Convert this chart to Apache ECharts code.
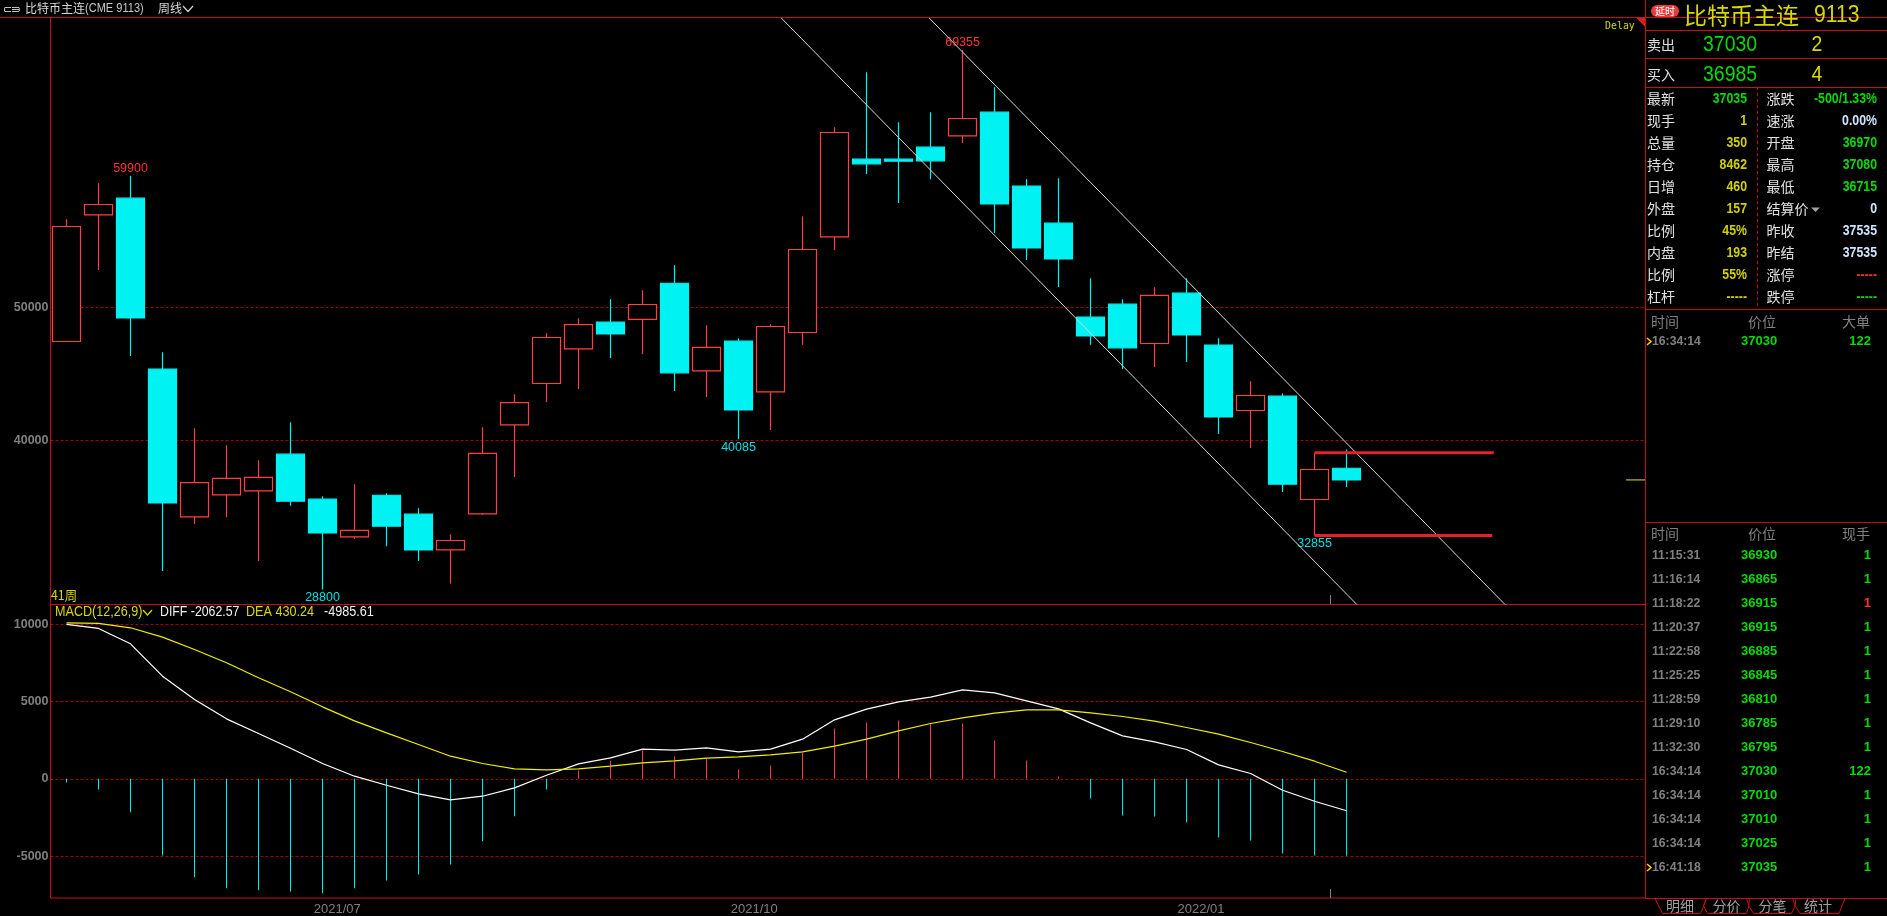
<!DOCTYPE html>
<html><head><meta charset="utf-8">
<style>html,body{margin:0;padding:0;background:#000;width:100%;height:100%;overflow:hidden}#c{width:1887px;height:916px}</style>
<script src="https://cdn.jsdelivr.net/npm/echarts@6/dist/echarts.min.js"></script>
</head><body><div id="c"></div>
<script>
// [open, close, low, high]
const candles = [
[47445,56090,47445,56640],[56965,57745,52825,59345],[58220,49220,46360,59900],[45360,35310,30195,46640],
[34255,36840,33730,40925],[35910,37145,34235,39645],[36210,37220,30945,38520],[38970,35435,35085,41375],
[35585,33050,28800,35810],[32750,33235,32600,36715],[35885,33555,32050,36035],[34460,31775,30945,34910],
[31775,32480,29220,32955],[34480,39025,34405,41000],[41175,42855,37265,43480],[44285,47745,42900,48070],
[46885,48720,43880,49195],[48895,48015,46210,50625],[49100,50225,46510,51300],[51825,45085,43730,53180],
[45235,46995,43280,48670],[47465,42300,40085,47690],[43655,48570,40795,48745],[48120,54360,47190,56865],
[55310,63160,54330,63555],[61150,60800,60045,67695],[61150,61000,57865,63935],[62055,61025,59645,64685],
[62905,64210,62375,69355],[64685,57790,55610,66565],[59120,54480,53580,59645],[56340,53655,51550,59720],
[49270,47865,47190,52205],[50250,46965,45385,50625],[47295,50905,45535,51525],[51075,47940,45910,52205],
[47165,41775,40495,47690],[42255,43385,39445,44460],[43330,36715,36135,43535],[35565,37820,32855,39070],
[37915,37035,36510,39325]];
const diff = [10001,9742,8748,6653,5141,3888,2938,1987,994,173,-410,-972,-1361,-1123,-583,238,972,1361,1922,1858,2009,1750,1922,2570,3823,4514,4990,5292,5767,5573,5054,4536,3629,2786,2398,1901,907,346,-734,-1447,-2063];
const dea = [10109,10066,9785,9180,8381,7517,6545,5638,4666,3758,2981,2225,1469,994,648,583,648,821,1037,1166,1339,1426,1555,1750,2117,2570,3110,3586,3953,4255,4471,4471,4277,4039,3737,3326,2894,2354,1771,1145,430];
const macd = [-238,-691,-2160,-4968,-6372,-7085,-7214,-7301,-7409,-7085,-6588,-6199,-5551,-4039,-2419,-691,540,1188,1858,1447,1339,605,864,1706,3262,3650,3780,3542,3586,2484,1188,151,-1274,-2376,-2441,-2830,-3802,-3996,-4838,-4968,-4986];
const priceTicks = [40000,50000];
const macdTicks = [-5000,0,5000,10000];
const dateTickIdx = [8.46,21.49,35.45];
const dateTickLabels = ['2021/07','2021/10','2022/01'];
const extremes = [[2,59900,'hi'],[28,69355,'hi'],[21,40085,'lo'],[8,28800,'lo'],[39,32855,'lo']];
const channelA = [[22.32,71805],[40.32,27669]];
const channelB = [[26.94,71805],[44.95,27669]];
const boxTop = [[39,39070],[44.6,39070]];
const boxBottom = [[39,32855],[44.55,32855]];
const lastPriceMark = [[48.73,37035],[49.34,37035]];

const bookRows = [['卖出','37030','2'],['买入','36985','4']];
const quoteLeft = [['最新','37035','g'],['现手','1','y'],['总量','350','y'],['持仓','8462','y'],['日增','460','y'],['外盘','157','y'],['比例','45%','y'],['内盘','193','y'],['比例','55%','y'],['杠杆','-----','y']];
const quoteRight = [['涨跌','-500/1.33%','g'],['速涨','0.00%','w'],['开盘','36970','g'],['最高','37080','g'],['最低','36715','g'],['结算价','0','w'],['昨收','37535','w'],['昨结','37535','w'],['涨停','-----','r'],['跌停','-----','g']];
const bigTrades = [['16:34:14','37030','122','g']];
const ticks = [['11:15:31','36930','1','g'],['11:16:14','36865','1','g'],['11:18:22','36915','1','r'],['11:20:37','36915','1','g'],['11:22:58','36885','1','g'],['11:25:25','36845','1','g'],['11:28:59','36810','1','g'],['11:29:10','36785','1','g'],['11:32:30','36795','1','g'],['16:34:14','37030','122','g'],['16:34:14','37010','1','g'],['16:34:14','37010','1','g'],['16:34:14','37025','1','g'],['16:41:18','37035','1','g']];
const tabs = ['明细','分价','分笔','统计'];

const RED='#c81010', UP='#ff4040', DOWN='#00f2f2', GRID='#a80000', GRAY='#808080';
const YEL='#d8d800', GRN='#00dc00';
const LAT="'Liberation Sans',sans-serif";
const CJK="'Noto Sans CJK SC',sans-serif";
const BOLD="'Liberation Sans','Noto Sans CJK SC',sans-serif";
const tone={g:GRN,y:'#d0d000',w:'#d0e4ff',r:'#ff3030'};

const gfx=[];
function T(x,y,text,fill,font,align,sx){gfx.push({type:'text',x,y,scaleX:sx||1,silent:true,z:50,style:{text,fill,font,textAlign:align||'left',textVerticalAlign:'middle'}});}
function L(pts,stroke,w,dash){gfx.push({type:'polyline',silent:true,z:49,shape:{points:pts},style:{stroke,lineWidth:w||1,fill:null,lineDash:dash||null}});}

// top bar and panel frame
L([[0,17.5],[1887,17.5]],RED);
L([[1645.5,0],[1645.5,898.5]],RED);
L([[1645.5,898.5],[1887,898.5]],RED);
L([[1645.5,30.5],[1887,30.5]],RED);
L([[1645.5,58.5],[1887,58.5]],RED);
L([[1645.5,87.5],[1887,87.5]],RED);
L([[1645.5,309.5],[1887,309.5]],RED);
L([[1645.5,522.5],[1887,522.5]],RED);
L([[1757.5,87],[1757.5,309]],RED,1,[3,3]);

// top-left header
L([[5,7.5],[11,7.5]],'#c0c0c0');L([[5,11.5],[11,11.5]],'#c0c0c0');L([[4.5,7.5],[4.5,11.5]],'#c0c0c0');
L([[12,7.5],[19,7.5],[19.5,9.5],[12,9.5]],'#c0c0c0');L([[12,11.5],[19,11.5],[19.5,9.5]],'#c0c0c0');
T(25,8.5,'比特币主连','#d8d8d8',"12px "+CJK);
T(85,8.5,'(CME 9113)','#c8c8c8',"13px "+LAT,'left',0.85);
T(158,8.5,'周线','#d8d8d8',"12px "+CJK);
L([[183,6],[188,11.5],[193,6]],'#d8d8d8',1.2);
T(1605,26.5,'Delay',YEL,"11px 'DejaVu Sans Mono',monospace",'left',0.9);
gfx.push({type:'polygon',silent:true,z:49,shape:{points:[[1636,17.5],[1645,17.5],[1645,27]]},style:{fill:'#d02020'}});
T(51,595,'41周',YEL,"13px "+CJK,'left',0.95);
T(55,612.5,'MACD(12,26,9)',YEL,"14px "+LAT,'left',0.9);
L([[143,610],[147.5,615],[152,610]],YEL,1.2);
T(160,612.5,'DIFF -2062.57','#f0f0f0',"14px "+LAT,'left',0.88);
T(246,612.5,'DEA 430.24',YEL,"14px "+LAT,'left',0.9);
T(324,612.5,'-4985.61','#f0f0f0',"14px "+LAT,'left',0.9);
L([[1330.5,595],[1330.5,604]],GRAY);
L([[1330.5,889],[1330.5,898]],GRAY);

// quote title
gfx.push({type:'rect',silent:true,z:49,shape:{x:1651,y:5,width:28,height:12,r:6},style:{fill:'#e83c3c'}});
T(1665,11,'延时','#fff',"10px "+CJK,'center');
T(1684,15.5,'比特币主连',YEL,"23px "+CJK);
T(1814,16,'9113',YEL,"23px "+LAT,'left',0.92);
bookRows.forEach((r,i)=>{const y=[45,74.5][i];
  T(1647,y,r[0],'#e0e0e0',"14px "+CJK);
  T(1703,y,r[1],GRN,"22px "+LAT,'left',0.885);
  T(1817,y,r[2],YEL,"22px "+LAT,'center',0.885);});
quoteLeft.forEach((r,i)=>{const y=98.5+22*i;
  T(1647,y,r[0],'#e0e0e0',"14px "+CJK);
  T(1747,y+1,r[1],tone[r[2]],"bold 14px "+LAT,'right',0.88);});
quoteRight.forEach((r,i)=>{const y=98.5+22*i;
  T(1766.5,y,r[0],'#e0e0e0',"14px "+CJK);
  T(1877,y+1,r[1],tone[r[2]],"bold 14px "+LAT,'right',0.88);});
gfx.push({type:'polygon',silent:true,z:49,shape:{points:[[1811,207.5],[1820,207.5],[1815.5,212]]},style:{fill:'#a0a0a0'}});

function tableHead(y,c3){
  T(1651,y,'时间',GRAY,"14px "+CJK);
  T(1762,y,'价位',GRAY,"14px "+CJK,'center');
  T(1870,y,c3,GRAY,"14px "+CJK,'right');
}
function tableRow(y,r,mark){
  if(mark) L([[1647,y-3.5],[1651,y],[1647,y+3.5]],'#ffd000',1.5);
  T(1652,y,r[0],GRAY,"bold 13px "+BOLD,'left',0.94);
  T(1741,y,r[1],GRN,"bold 13px "+BOLD);
  T(1871,y,r[2],tone[r[3]],"bold 13px "+BOLD,'right');
}
tableHead(321.5,'大单');
bigTrades.forEach((r,i)=>tableRow(341.5+24*i,r,true));
tableHead(534,'现手');
ticks.forEach((r,i)=>tableRow(555.5+24*i,r,i===ticks.length-1));

// tabs
L([[1655,898.5],[1662.5,913.5],[1700.5,913.5],[1706.5,898.5]],RED);
L([[1706.5,898.5],[1703.5,905.5],[1707.5,913.5],[1746.5,913.5],[1749,905.5],[1746.5,898.5]],RED);
L([[1750,898.5],[1748.5,905.5],[1753.5,913.5],[1791.5,913.5],[1795,905.5],[1792.5,898.5]],RED);
L([[1796,898.5],[1795,905.5],[1800,913.5],[1839,913.5],[1845,898.5]],RED);
[1680,1726.5,1772.5,1818].forEach((x,i)=>T(x,905.5,tabs[i],'#a0a0a0',"14px "+CJK,'center'));

const xCommon={type:'value',min:-0.5,max:49.34,splitLine:{show:false},axisLine:{show:false},axisTick:{show:false}};
const yCommon={type:'value',position:'left',scale:false,axisLine:{show:false},
  axisLabel:{color:GRAY,fontFamily:LAT,fontSize:12.5,fontWeight:'bold',margin:2,showMinLabel:true,showMaxLabel:true,formatter:v=>String(v)},
  splitLine:{show:true,lineStyle:{color:GRID,type:[3,2],width:1}}};

const chart=echarts.init(document.getElementById('c'),null,{renderer:'canvas'});
const seg=(d,c,w)=>({type:'line',xAxisIndex:0,yAxisIndex:0,data:d,symbol:'none',silent:true,z:5,animation:false,lineStyle:{color:c,width:w}});
chart.setOption({
  animation:false,backgroundColor:'#000',
  grid:[
    {left:50.5,top:17.5,width:1595,height:587,show:true,backgroundColor:'transparent',borderColor:RED,borderWidth:1},
    {left:50.5,top:604.5,width:1595,height:294,show:true,backgroundColor:'transparent',borderColor:RED,borderWidth:1}
  ],
  xAxis:[
    Object.assign({gridIndex:0,axisLabel:{show:false}},xCommon),
    Object.assign({gridIndex:1,axisLabel:{show:true,color:GRAY,fontFamily:LAT,fontSize:13,margin:5,
      customValues:dateTickIdx,formatter:v=>dateTickLabels[dateTickIdx.indexOf(v)]}},xCommon)
  ],
  yAxis:[
    Object.assign({},yCommon,{gridIndex:0,min:27669,max:71805,axisTick:{show:false,customValues:priceTicks},axisLabel:Object.assign({},yCommon.axisLabel,{customValues:priceTicks})}),
    Object.assign({},yCommon,{gridIndex:1,min:-7715,max:11293,axisTick:{show:false,customValues:macdTicks},axisLabel:Object.assign({},yCommon.axisLabel,{customValues:macdTicks})})
  ],
  series:[
    {type:'candlestick',xAxisIndex:0,yAxisIndex:0,barWidth:28,
     data:candles.map((c,i)=>[i,c[0],c[1],c[2],c[3]]),encode:{x:0,y:[1,2,3,4]},
     itemStyle:{color:'#000',color0:DOWN,borderColor:UP,borderColor0:DOWN,borderWidth:1.2},
     markPoint:{symbol:'circle',symbolSize:0,silent:true,animation:false,
       data:extremes.map(e=>({coord:[e[0],e[1]],value:e[1],
         label:{show:true,formatter:String(e[1]),position:e[2]==='hi'?'top':'bottom',distance:e[2]==='hi'?1:2,
           color:e[2]==='hi'?'#ff3030':'#00e0e0',fontFamily:LAT,fontSize:12.5}}))}},
    seg(channelA,'#d8d8d8',1),seg(channelB,'#d8d8d8',1),
    seg(boxTop,'#e8202a',3),seg(boxBottom,'#e8202a',3),seg(lastPriceMark,'#e8e800',1),
    {type:'bar',xAxisIndex:1,yAxisIndex:1,barWidth:1,
     data:macd.map((v,i)=>({value:[i,v],itemStyle:{color:v>=0?UP:DOWN}})),silent:true},
    {type:'line',xAxisIndex:1,yAxisIndex:1,data:diff.map((v,i)=>[i,v]),symbol:'none',silent:true,z:4,lineStyle:{color:'#ffffff',width:1.2}},
    {type:'line',xAxisIndex:1,yAxisIndex:1,data:dea.map((v,i)=>[i,v]),symbol:'none',silent:true,z:4,lineStyle:{color:'#eeee00',width:1.2}}
  ],
  graphic:gfx
});
</script></body></html>
